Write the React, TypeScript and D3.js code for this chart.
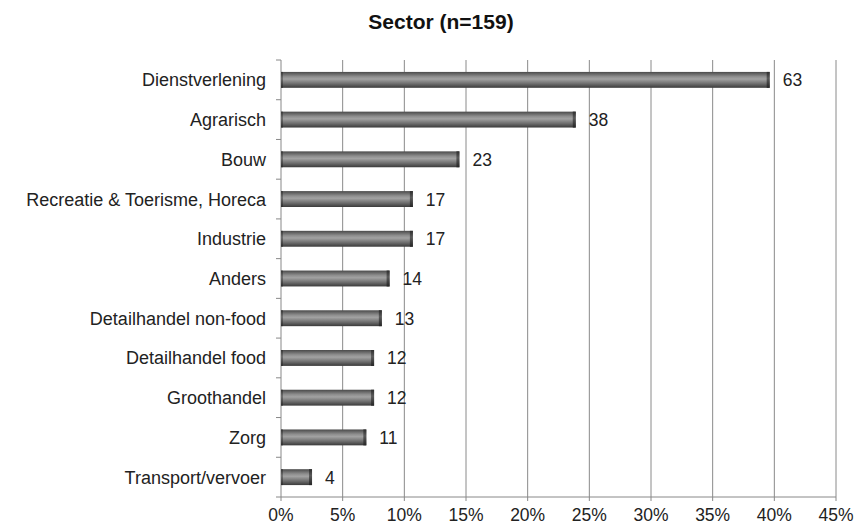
import React from "react";
import * as d3 from "d3";

const categories = [
  "Dienstverlening",
  "Agrarisch",
  "Bouw",
  "Recreatie & Toerisme, Horeca",
  "Industrie",
  "Anders",
  "Detailhandel non-food",
  "Detailhandel food",
  "Groothandel",
  "Zorg",
  "Transport/vervoer",
];
const counts = [63, 38, 23, 17, 17, 14, 13, 12, 12, 11, 4];
const total = 159;
const xTicks = [0, 0.05, 0.1, 0.15, 0.2, 0.25, 0.3, 0.35, 0.4, 0.45];
const title = "Sector (n=159)";

const W = 854;
const H = 525;
const M = { left: 281, right: 18, top: 60, bottom: 28 };

export default function App() {
  const x = d3.scaleLinear().domain([0, 0.45]).range([M.left, W - M.right]);
  const y = d3
    .scaleBand<string>()
    .domain(categories)
    .range([M.top, H - M.bottom])
    .paddingInner(0.6)
    .paddingOuter(0.3);
  const bands = d3.scaleBand<string>().domain(categories).range([M.top, H - M.bottom]);
  const font = "'Liberation Sans', Arial, sans-serif";
  const y0 = M.top;
  const y1 = H - M.bottom;
  const boundaries = d3.range(categories.length + 1).map((i) => M.top + i * bands.step());

  return (
    <svg
      width={W}
      height={H}
      style={{ position: "absolute", left: 0, top: 0, background: "#fff" }}
      fontFamily={font}
    >
      <defs>
        <linearGradient id="barGrad" x1="0" y1="0" x2="0" y2="1">
          <stop offset="0" stopColor="#4a4a4a" />
          <stop offset="0.3" stopColor="#8e8e8e" />
          <stop offset="0.45" stopColor="#a2a2a2" />
          <stop offset="0.75" stopColor="#6c6c6c" />
          <stop offset="1" stopColor="#3a3a3a" />
        </linearGradient>
        <linearGradient id="capGrad" x1="0" y1="0" x2="0" y2="1">
          <stop offset="0" stopColor="#2e2e2e" />
          <stop offset="0.4" stopColor="#5a5a5a" />
          <stop offset="1" stopColor="#262626" />
        </linearGradient>
      </defs>
      <text x={441} y={29} textAnchor="middle" fontSize={21} fontWeight="bold" fill="#111">
        {title}
      </text>
      {xTicks.map((t) =>
        t === 0 ? null : (
          <line key={"g" + t} x1={x(t)} x2={x(t)} y1={y0} y2={y1} stroke="#8a8a8a" strokeWidth={1} />
        )
      )}
      <line x1={M.left} x2={M.left} y1={y0} y2={y1} stroke="#888" strokeWidth={1} />
      <line x1={M.left} x2={x(0.45)} y1={y1} y2={y1} stroke="#888" strokeWidth={1} />
      {boundaries.map((b, i) => (
        <line key={"yt" + i} x1={M.left - 5} x2={M.left} y1={b} y2={b} stroke="#888" />
      ))}
      {xTicks.map((t) => (
        <g key={"xt" + t}>
          <line x1={x(t)} x2={x(t)} y1={y1} y2={y1 + 4} stroke="#888" />
          <text x={x(t)} y={y1 + 24} textAnchor="middle" fontSize={17.5} fill="#222">
            {d3.format(".0%")(t)}
          </text>
        </g>
      ))}
      {categories.map((c, i) => {
        const v = counts[i] / total;
        const by = y(c)!;
        const bh = y.bandwidth();
        const bw = x(v) - x(0);
        const cy = bands(c)! + bands.bandwidth() / 2;
        return (
          <g key={c}>
            <text x={M.left - 15} y={cy + 6.5} textAnchor="end" fontSize={18} fill="#222">
              {c}
            </text>
            <rect x={x(0)} y={by} width={bw} height={bh} fill="url(#barGrad)" />
            <rect x={x(0)} y={by} width={2} height={bh} fill="url(#capGrad)" opacity={0.7} />
            <rect x={x(v) - 3} y={by} width={3} height={bh} fill="url(#capGrad)" />
            <text x={x(v) + 13} y={cy + 6.5} fontSize={17.5} fill="#222">
              {counts[i]}
            </text>
          </g>
        );
      })}
    </svg>
  );
}
